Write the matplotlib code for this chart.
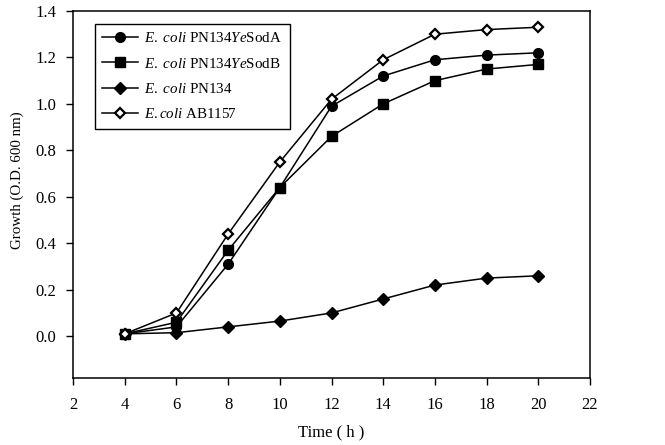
import matplotlib
matplotlib.use("Agg")
import matplotlib.pyplot as plt
from matplotlib.ticker import FormatStrFormatter

plt.rcParams["font.family"] = ["Liberation Serif", "DejaVu Serif"]
plt.rcParams["mathtext.fontset"] = "custom"
plt.rcParams["mathtext.rm"] = "Liberation Serif"
plt.rcParams["mathtext.it"] = "Liberation Serif:italic"

# Growth curves
time_h = [4, 6, 8, 10, 12, 14, 16, 18, 20]
soda = [0.01, 0.04, 0.31, 0.64, 0.99, 1.12, 1.19, 1.21, 1.22]
sodb = [0.01, 0.06, 0.37, 0.64, 0.86, 1.00, 1.10, 1.15, 1.17]
pn134 = [0.01, 0.015, 0.04, 0.065, 0.10, 0.16, 0.22, 0.25, 0.26]
ab1157 = [0.01, 0.10, 0.44, 0.75, 1.02, 1.19, 1.30, 1.32, 1.33]

labels = [
    r"$\it{E.\ coli}$ PN134$\it{Ye}$SodA",
    r"$\it{E.\ coli}$ PN134$\it{Ye}$SodB",
    r"$\it{E.\ coli}$ PN134",
    r"$\it{E.coli}$ AB1157",
]

fig = plt.figure(figsize=(6.65, 4.45), dpi=100)
ax = fig.add_axes([0.11, 0.1506, 0.777, 0.8247])

ax.plot(time_h, soda, "-o", color="black", lw=1.1, ms=7, label=labels[0])
ax.plot(time_h, sodb, "-s", color="black", lw=1.1, ms=6.5, label=labels[1])
ax.plot(time_h, pn134, "-D", color="black", lw=1.1, ms=6, label=labels[2])
ax.plot(time_h, ab1157, "-D", color="black", lw=1.1, ms=5, mfc="white",
        mec="black", mew=1.6, label=labels[3])

ax.set_xlim(2, 22)
ax.set_ylim(-0.18, 1.4)
ax.set_xticks(range(2, 23, 2))
ax.set_yticks([0.0, 0.2, 0.4, 0.6, 0.8, 1.0, 1.2, 1.4])
ax.yaxis.set_major_formatter(FormatStrFormatter("%.1f"))
ax.tick_params(direction="out", length=5, width=1, labelsize=12)
ax.tick_params(axis="x", pad=9)
ax.tick_params(axis="y", pad=7)
for s in ax.spines.values():
    s.set_linewidth(1.1)

ax.set_xlabel("Time ( h )", fontsize=12, labelpad=8)
ax.set_ylabel("Growth (O.D. 600 nm)", fontsize=10.8)
# label sits centred on the 0.0-1.4 span, not on the whole axis
ax.yaxis.set_label_coords(-0.095, 0.54)

leg = ax.legend(loc="upper left", bbox_to_anchor=(0.042, 0.965), fontsize=10.8,
                handlelength=2.4, handletextpad=0.4, labelspacing=0.75,
                borderpad=0.5, borderaxespad=0, fancybox=False, framealpha=1,
                edgecolor="black")
leg.get_frame().set_linewidth(1.0)

fig.savefig("out.png", dpi=100)
